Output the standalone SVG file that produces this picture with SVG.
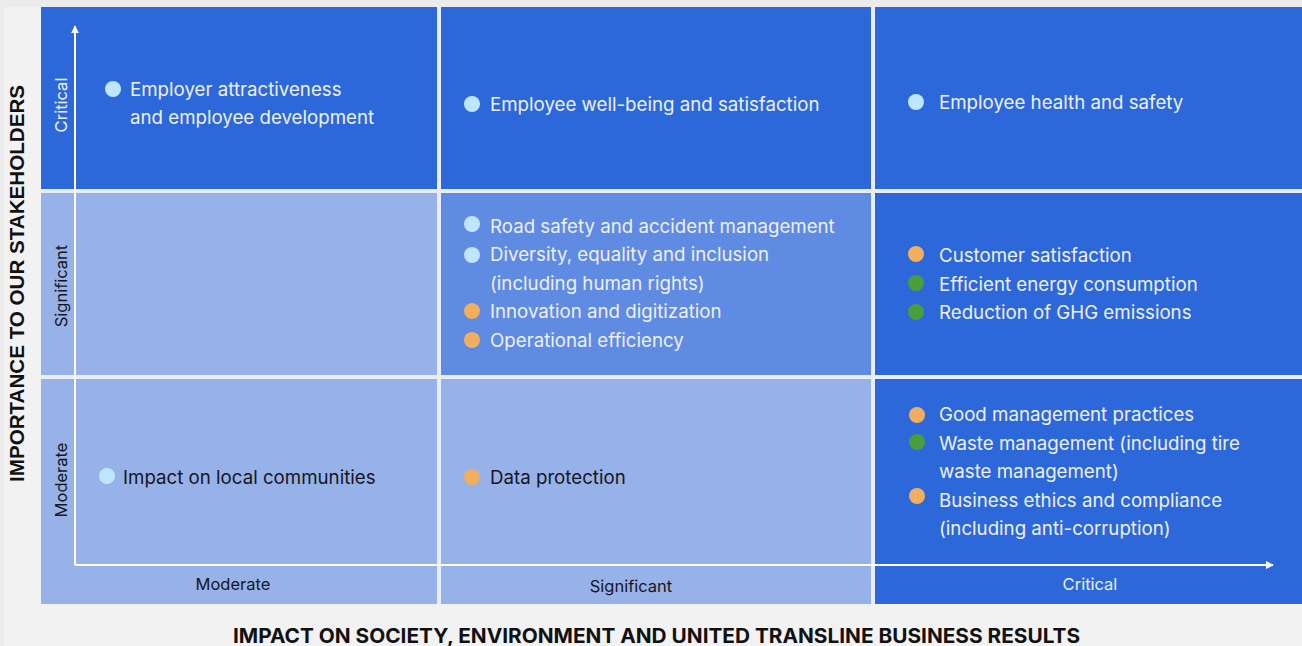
<svg xmlns="http://www.w3.org/2000/svg" width="1302" height="646" viewBox="0 0 1302 646">
  <style>
    .dark { fill: #2d68db; }
    .mid { fill: #5f8be2; }
    .light { fill: #97b2e8; }
    .item { font-family: Inter, "Open Sans", sans-serif; font-size: 18.7px; }
    .on-dark { fill: #eef0fa; }
    .on-light { fill: #16161e; }
    .lvl { font-family: Inter, "Open Sans", sans-serif; font-size: 16.5px; }
    .title { font-family: Inter, "Liberation Sans", sans-serif; font-weight: 700; font-size: 20px; fill: #111; }
    .vtitle { font-family: "Liberation Sans", Arial, sans-serif; font-weight: 700; font-size: 20px; fill: #111; }
    .b-blue { fill: #bfe6ff; }
    .b-orange { fill: #f2ae5f; }
    .b-green { fill: #4b9d3b; }
    .axis { stroke: #ffffff; stroke-width: 2; fill: none; }
  </style>
  <defs>
    <marker id="arrow" viewBox="0 0 10 10" refX="9" refY="5" markerWidth="4" markerHeight="4" orient="auto" markerUnits="strokeWidth">
      <path d="M0,0 L10,5 L0,10 Z" fill="#ffffff"/>
    </marker>
  </defs>

  <!-- page background -->
  <rect x="0" y="0" width="1302" height="646" fill="#f2f2f2"/>
  <rect x="0" y="0" width="1302" height="7" fill="#ececec"/>
  <rect x="0" y="0" width="4" height="646" fill="#ececec"/>
  <!-- grid gutter -->
  <rect x="41" y="7" width="1261" height="597" fill="#eaedf3"/>

  <!-- row 1: critical importance -->
  <g id="cell-critical-moderate">
    <rect class="dark" x="41" y="7" width="396" height="182"/>
    <circle class="b-blue" cx="113" cy="89" r="8"/>
    <text class="item on-dark" x="130" y="96">Employer attractiveness</text>
    <text class="item on-dark" x="130" y="124">and employee development</text>
  </g>
  <g id="cell-critical-significant">
    <rect class="dark" x="441" y="7" width="430" height="182"/>
    <circle class="b-blue" cx="472" cy="104" r="8"/>
    <text class="item on-dark" x="490" y="111">Employee well-being and satisfaction</text>
  </g>
  <g id="cell-critical-critical">
    <rect class="dark" x="875" y="7" width="427" height="182"/>
    <circle class="b-blue" cx="916" cy="102" r="8"/>
    <text class="item on-dark" x="939" y="109">Employee health and safety</text>
  </g>

  <!-- row 2: significant importance -->
  <g id="cell-significant-moderate">
    <rect class="light" x="41" y="193" width="396" height="182"/>
  </g>
  <g id="cell-significant-significant">
    <rect class="mid" x="441" y="193" width="430" height="182"/>
    <circle class="b-blue" cx="472" cy="224" r="8"/>
    <text class="item on-dark" x="490" y="233">Road safety and accident management</text>
    <circle class="b-blue" cx="472" cy="255" r="8"/>
    <text class="item on-dark" x="490" y="261">Diversity, equality and inclusion</text>
    <text class="item on-dark" x="490" y="290">(including human rights)</text>
    <circle class="b-orange" cx="472" cy="311" r="8"/>
    <text class="item on-dark" x="490" y="318">Innovation and digitization</text>
    <circle class="b-orange" cx="472" cy="340" r="8"/>
    <text class="item on-dark" x="490" y="347">Operational efficiency</text>
  </g>
  <g id="cell-significant-critical">
    <rect class="dark" x="875" y="193" width="427" height="182"/>
    <circle class="b-orange" cx="916" cy="254" r="8"/>
    <text class="item on-dark" x="939" y="262">Customer satisfaction</text>
    <circle class="b-green" cx="916" cy="283" r="8"/>
    <text class="item on-dark" x="939" y="291">Efficient energy consumption</text>
    <circle class="b-green" cx="916" cy="312" r="8"/>
    <text class="item on-dark" x="939" y="319">Reduction of GHG emissions</text>
  </g>

  <!-- row 3: moderate importance -->
  <g id="cell-moderate-moderate">
    <rect class="light" x="41" y="379" width="396" height="225"/>
    <circle class="b-blue" cx="107" cy="476" r="8"/>
    <text class="item on-light" x="123" y="484">Impact on local communities</text>
  </g>
  <g id="cell-moderate-significant">
    <rect class="light" x="441" y="379" width="430" height="225"/>
    <circle class="b-orange" cx="472" cy="477" r="8"/>
    <text class="item on-light" x="490" y="484">Data protection</text>
  </g>
  <g id="cell-moderate-critical">
    <rect class="dark" x="875" y="379" width="427" height="225"/>
    <circle class="b-orange" cx="917" cy="415" r="8"/>
    <text class="item on-dark" x="939" y="421">Good management practices</text>
    <circle class="b-green" cx="917" cy="442" r="8"/>
    <text class="item on-dark" x="939" y="450">Waste management (including tire</text>
    <text class="item on-dark" x="939" y="478">waste management)</text>
    <circle class="b-orange" cx="917" cy="496" r="8"/>
    <text class="item on-dark" x="939" y="507">Business ethics and compliance</text>
    <text class="item on-dark" x="939" y="535">(including anti-corruption)</text>
  </g>

  <!-- axes -->
  <g id="axes">
    <line class="axis" x1="75" y1="565" x2="75" y2="26" marker-end="url(#arrow)"/>
    <line class="axis" x1="75" y1="565" x2="1273" y2="565" marker-end="url(#arrow)"/>
  </g>

  <!-- level labels, vertical axis -->
  <g id="y-levels">
    <text class="lvl on-dark" transform="translate(66.5,105) rotate(-90)" text-anchor="middle">Critical</text>
    <text class="lvl on-light" transform="translate(66.5,286) rotate(-90)" text-anchor="middle">Significant</text>
    <text class="lvl on-light" transform="translate(66.5,480) rotate(-90)" text-anchor="middle">Moderate</text>
  </g>

  <!-- level labels, horizontal axis -->
  <g id="x-levels">
    <text class="lvl on-light" x="233" y="590" text-anchor="middle">Moderate</text>
    <text class="lvl on-light" x="631" y="592" text-anchor="middle">Significant</text>
    <text class="lvl on-dark" x="1090" y="590" text-anchor="middle">Critical</text>
  </g>

  <!-- axis titles -->
  <text class="vtitle" transform="translate(24,283.5) rotate(-90)" text-anchor="middle" textLength="397" lengthAdjust="spacingAndGlyphs">IMPORTANCE TO OUR STAKEHOLDERS</text>
  <text class="title" x="656.5" y="643" text-anchor="middle" textLength="847" lengthAdjust="spacingAndGlyphs">IMPACT ON SOCIETY, ENVIRONMENT AND UNITED TRANSLINE BUSINESS RESULTS</text>
</svg>
